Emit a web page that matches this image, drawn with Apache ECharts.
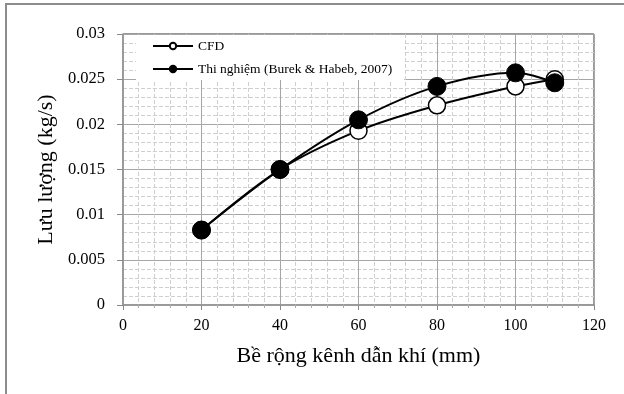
<!DOCTYPE html>
<html><head><meta charset="utf-8">
<script src="https://cdn.jsdelivr.net/npm/echarts@6/dist/echarts.min.js"></script>
<style>html,body{margin:0;padding:0;background:#fff}#c{width:624px;height:394px}</style>
</head><body><div id="c"></div>
<script>
const widths = [20, 40, 60, 80, 100, 110];
const cfd = [0.0083, 0.0150, 0.0193, 0.0221, 0.0242, 0.0250];
const thiNghiem = [0.0083, 0.0150, 0.0205, 0.0242, 0.0257, 0.0246];
const seriesNames = ['CFD', 'Thi nghiệm (Burek & Habeb, 2007)'];
const xTitle = 'Bề rộng kênh dẫn khí (mm)';
const yTitle = 'Lưu lượng (kg/s)';

const font = '"Liberation Serif", "DejaVu Serif", serif';
const chart = echarts.init(document.getElementById('c'));
const pair = (xs, ys) => xs.map((x, i) => [x, ys[i]]);
chart.setOption({
  animation: false,
  backgroundColor: '#fff',
  graphic: [{
    type: 'rect', z: 100, silent: true,
    shape: { x: 6, y: 4, width: 640, height: 420 },
    style: { fill: 'none', stroke: '#8c8c8c', lineWidth: 2 }
  }],
  grid: { left: 123, right: 30, top: 34, bottom: 89, show: true, borderColor: '#333', borderWidth: 1, backgroundColor: 'transparent' },
  legend: {
    orient: 'vertical', left: 136, top: 35,
    backgroundColor: '#fff', padding: [4, 12, 4, 16],
    itemWidth: 40, itemHeight: 8, itemGap: 9,
    textStyle: { fontFamily: font, fontSize: 13.5, color: '#000' },
    data: seriesNames
  },
  xAxis: {
    type: 'value', min: 0, max: 120, interval: 20,
    name: xTitle, nameLocation: 'middle', nameGap: 40,
    nameTextStyle: { fontFamily: font, fontSize: 22, color: '#000' },
    axisLine: { show: true, lineStyle: { color: '#999', width: 1.5 } },
    axisTick: { show: true, length: 5, lineStyle: { color: '#888' } },
    minorTick: { show: true, splitNumber: 5, length: 3, lineStyle: { color: '#aaa' } },
    axisLabel: { fontFamily: font, fontSize: 16, color: '#000', margin: 13 },
    splitLine: { show: true, lineStyle: { color: '#a6a6a6', width: 1 } },
    minorSplitLine: { show: true, lineStyle: { color: '#cfcfcf', type: [4, 2], width: 1 } }
  },
  yAxis: {
    type: 'value', min: 0, max: 0.03, interval: 0.005,
    name: yTitle, nameLocation: 'middle', nameGap: 66,
    nameTextStyle: { fontFamily: font, fontSize: 22, color: '#000' },
    axisLine: { show: true, lineStyle: { color: '#999', width: 1.5 } },
    axisTick: { show: true, length: 6, lineStyle: { color: '#888' } },
    minorTick: { show: false, splitNumber: 5 },
    axisLabel: { fontFamily: font, fontSize: 16.5, color: '#000', margin: 18 },
    splitLine: { show: true, lineStyle: { color: '#a6a6a6', width: 1 } },
    minorSplitLine: { show: true, lineStyle: { color: '#cfcfcf', type: [4, 2], width: 1 } }
  },
  series: [
    {
      name: seriesNames[0], type: 'line', smooth: 0.35,
      data: pair(widths, cfd),
      symbol: 'circle', symbolSize: 17,
      itemStyle: { color: '#fff', borderColor: '#000', borderWidth: 1.5 },
      lineStyle: { color: '#000', width: 2 }
    },
    {
      name: seriesNames[1], type: 'line', smooth: 0.35,
      data: pair(widths, thiNghiem),
      symbol: 'circle', symbolSize: 18,
      itemStyle: { color: '#000', borderColor: '#000', borderWidth: 1 },
      lineStyle: { color: '#000', width: 2 }
    }
  ]
});
</script></body></html>
